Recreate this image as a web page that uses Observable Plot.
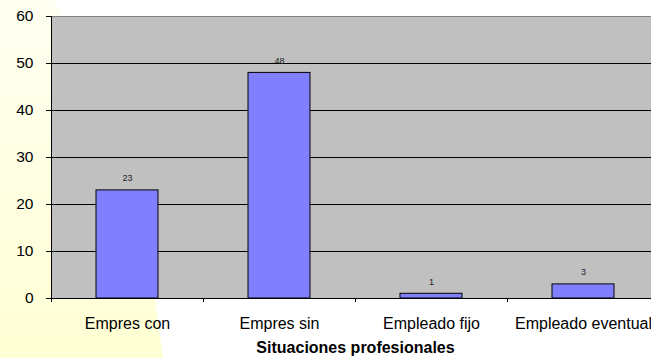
<!DOCTYPE html>
<html>
<head>
<meta charset="utf-8">
<script src="https://cdn.jsdelivr.net/npm/d3@7"></script>
<script src="https://cdn.jsdelivr.net/npm/@observablehq/plot@0.6"></script>
<style>
  html, body { margin: 0; padding: 0; background: #ffffff; overflow: hidden; width: 651px; height: 358px; }
  #bg { position: absolute; left: 0; top: 0; width: 651px; height: 358px;
        background: linear-gradient(to bottom, #fffff2 0%, #ffffd4 100%);
        clip-path: polygon(0 0, 55px 0, 120px 150px, 155px 298px, 163px 358px, 0 358px); }
  #chart { position: absolute; left: 0; top: 0; width: 660px; }
  svg { font-family: Arial, "Liberation Sans", sans-serif; overflow: visible; max-width: none !important; height: 358px !important; }
</style>
</head>
<body>
<div id="bg"></div>
<div id="chart"></div>
<script>
const categories = ["Empres con", "Empres sin", "Empleado fijo", "Empleado eventual"];
const values = [23, 48, 1, 3];
const yTicks = [0, 10, 20, 30, 40, 50, 60];
const gridTicks = [10, 20, 30, 40, 50];
const xTitle = "Situaciones profesionales";

const data = categories.map((c, i) => ({cat: c, value: values[i]}));

const chart = Plot.plot({
  width: 660,
  height: 358,
  marginTop: 16,
  marginBottom: 60,
  marginLeft: 51,
  marginRight: 1,
  style: {background: "transparent", fontFamily: "Arial, 'Liberation Sans', sans-serif", maxWidth: "none"},
  x: {domain: categories, paddingInner: 0.59, paddingOuter: 0.295},
  y: {domain: [0, 60]},
  marks: [
    Plot.frame({fill: "#c0c0c0", stroke: null}),
    Plot.ruleY(gridTicks, {stroke: "#000000", strokeWidth: 1}),
    Plot.ruleY([60], {stroke: "#808080", strokeWidth: 1}),
    Plot.barY(data, {x: "cat", y: "value", fill: "#8080ff", stroke: "#000000", strokeWidth: 1}),
    Plot.text(data, {x: "cat", y: "value", text: d => String(d.value), dy: -12, fontSize: 9, fill: "#222222"}),
    Plot.ruleX(categories, {x: d => d, dx: -76, y1: 0, y2: -0.85, stroke: "#000000"}),
    Plot.ruleY([0], {stroke: "#000000"}),
    Plot.ruleX([categories[0]], {x: d => d, dx: -76, y1: 0, y2: 60, stroke: "#000000"}),
    Plot.axisY({ticks: yTicks, tickSize: 5, tickPadding: 13, fontSize: 15.5, label: null, stroke: "#000000", color: "#000000"}),
    Plot.axisX({tickSize: 0, tickPadding: 19, fontSize: 16, label: null, color: "#000000"}),
    Plot.text([xTitle], {frameAnchor: "bottom", lineAnchor: "bottom", dy: 54, fontSize: 16, fontWeight: "bold", fill: "#000000"})
  ]
});
document.getElementById("chart").appendChild(chart);
</script>
</body>
</html>
